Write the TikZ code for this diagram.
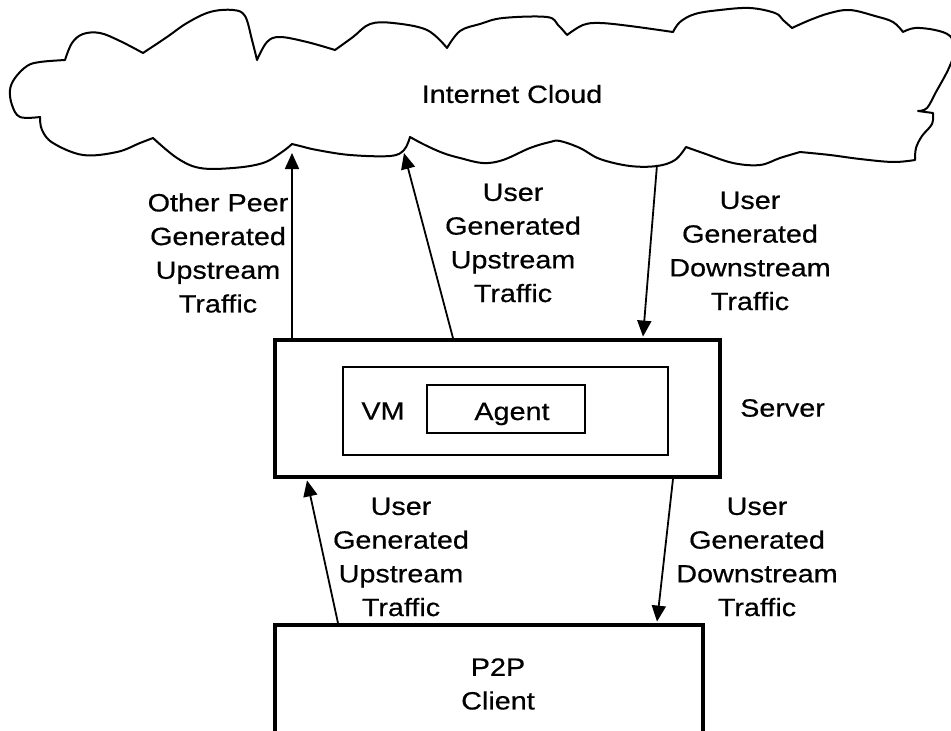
\documentclass[tikz,border=0pt]{standalone}
\usepackage{fontspec}
\setmainfont[FakeStretch=1.15,FakeBold=0.5]{Liberation Sans}
\usetikzlibrary{arrows.meta}

\begin{document}
\begin{tikzpicture}[x=1pt,y=-1pt,
  lbl/.style={font=\fontsize{25}{33.7}\selectfont, align=center, inner sep=0pt},
  arr/.style={-{Triangle[length=16pt,width=14pt]}, line width=1.8pt},
  heavybox/.style={draw, line width=3.8pt, inner sep=0pt},
  lightbox/.style={draw, line width=2.2pt, inner sep=0pt},
  cloudline/.style={draw, line width=2pt, line join=round, line cap=round},
  wob/.style={smooth, tension=0.6}]
\useasboundingbox (0,0) rectangle (951,731);

% ---- internet cloud outline, one smooth run per lobe so the cusps stay sharp
\path[cloudline]
  plot[wob] coordinates {(40,117) (20,117) (12,105) (10,90) (15,78) (27,66) (40,62) (65,60)}
  -- plot[wob] coordinates {(65,60) (72,43) (83,34) (100,33) (120,41) (143,53)}
  -- plot[wob] coordinates {(143,53) (167,37) (187,23) (210,12) (233,10) (245,16) (252,40) (257,60)}
  -- plot[wob] coordinates {(257,60) (267,42) (280,37) (307,42) (335,50)}
  -- plot[wob] coordinates {(335,50) (353,37) (370,24) (393,23) (427,30) (447,48)}
  -- plot[wob] coordinates {(447,48) (460,31) (480,24) (503,18) (547,17) (558,25) (567,35)}
  -- plot[wob] coordinates {(567,35) (583,25) (600,23) (630,26) (673,32)}
  -- plot[wob] coordinates {(673,32) (680,22) (695,14) (720,10) (750,8) (775,13) (783,20) (792,28)}
  -- plot[wob] coordinates {(792,28) (810,20) (830,13) (850,10) (875,16) (893,22) (903,32)}
  -- plot[wob] coordinates {(903,32) (915,28) (935,30) (950,36) (956,50)}
  -- plot[wob] coordinates {(956,50) (948,70) (936,92) (927,108) (918,111)}
  -- plot[wob] coordinates {(933,113) (932,124) (922,136) (916,148) (915,160)}
  -- plot[wob] coordinates {(915,160) (893,162) (860,159) (830,155) (800,152)}
  -- plot[wob] coordinates {(800,152) (780,158) (760,165) (733,163) (703,153) (686,147)}
  -- plot[wob] coordinates {(686,147) (675,160) (657,166) (630,166) (600,159) (580,148) (560,141) (550,142) (530,148) (503,160) (483,163) (460,158) (443,153) (425,145) (410,137)}
  -- plot[wob] coordinates {(410,137) (404,150) (390,156) (350,155) (317,150) (300,146) (292,144)}
  -- plot[wob] coordinates {(292,144) (282,152) (263,163) (233,168) (200,168) (177,158) (153,138)}
  -- plot[wob] coordinates {(153,138) (140,143) (117,152) (83,155) (53,143) (42,130) (40,117)}
  -- cycle;
\node[lbl] (cloudtxt) at (512,94) {Internet Cloud};

% points on the cloud rim where the traffic arrows meet it
\coordinate (cA) at (292,153);
\coordinate (cB) at (404,153);
\coordinate (cC) at (657,165);

% ---- server with its VM and agent
\node[heavybox, minimum width=445pt, minimum height=137pt] (server) at (497.5,408.5) {};
\node[lightbox, minimum width=325pt, minimum height=88pt] (vm) at (505.5,411) {};
\node[lightbox, minimum width=158pt, minimum height=48pt] (agent) at (506,409) {};
\node[lbl, anchor=base] (agenttxt) at (512,420) {Agent};
\node[lbl] (vmtxt) at (383,411) {VM};
\node[lbl, anchor=west] (servertxt) at (740,408) {Server};

% ---- client (runs off the bottom edge)
\node[heavybox, minimum width=428pt, minimum height=130pt] (client) at (489,690) {};
\node[lbl] (clienttxt) at (498,684) {P2P\\Client};

% ---- traffic arrows
\draw[arr] (cA |- server.north) -- (cA);
\draw[arr] ([xshift=-44.5pt]server.north) -- (cB);
\draw[arr] (cC) -- ([xshift=145.5pt,yshift=1.5pt]server.north);
\draw[arr] ([xshift=-151pt]client.north) -- ([xshift=-190.5pt,yshift=-1.5pt]server.south);
\draw[arr] ([xshift=175.5pt]server.south) -- ([xshift=168pt,yshift=1.5pt]client.north);

% ---- arrow captions
\node[lbl] (l1) at (218,253) {Other Peer\\Generated\\Upstream\\Traffic};
\node[lbl] (l2) at (513,243) {User\\Generated\\Upstream\\Traffic};
\node[lbl] (l3) at (750,251) {User\\Generated\\Downstream\\Traffic};
\node[lbl] (l4) at (401,557) {User\\Generated\\Upstream\\Traffic};
\node[lbl] (l5) at (757,557) {User\\Generated\\Downstream\\Traffic};
\end{tikzpicture}
\end{document}
